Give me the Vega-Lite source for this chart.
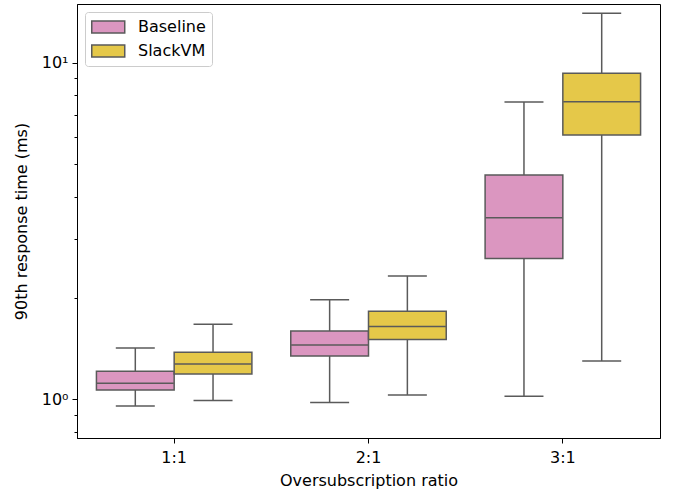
{
  "$schema": "https://vega.github.io/schema/vega-lite/v6.json",
  "width": 583,
  "height": 434,
  "autosize": "none",
  "padding": {"left": 77, "top": 4, "right": 15, "bottom": 56},
  "config": {
    "font": "DejaVu Sans",
    "view": {"stroke": "#000000", "strokeWidth": 1},
    "axis": {"labelColor": "#000000", "titleColor": "#000000", "titleFontWeight": "normal", "labelFontSize": 16, "titleFontSize": 16, "tickColor": "#000000", "domainColor": "#000000", "grid": false}
  },
  "data": {"values": [
    {"ratio": "1:1", "system": "Baseline", "lower": 0.955, "q1": 1.066, "median": 1.116, "q3": 1.211, "upper": 1.42},
    {"ratio": "1:1", "system": "SlackVM", "lower": 0.991, "q1": 1.189, "median": 1.273, "q3": 1.38, "upper": 1.671},
    {"ratio": "2:1", "system": "Baseline", "lower": 0.978, "q1": 1.345, "median": 1.45, "q3": 1.596, "upper": 1.974},
    {"ratio": "2:1", "system": "SlackVM", "lower": 1.03, "q1": 1.505, "median": 1.645, "q3": 1.826, "upper": 2.326},
    {"ratio": "3:1", "system": "Baseline", "lower": 1.021, "q1": 2.62, "median": 3.46, "q3": 4.637, "upper": 7.641},
    {"ratio": "3:1", "system": "SlackVM", "lower": 1.3, "q1": 6.096, "median": 7.656, "q3": 9.3, "upper": 14.03}
  ]},
  "encoding": {
    "x": {"field": "ratio", "type": "nominal", "scale": {"paddingInner": 0.2, "paddingOuter": 0.1},
      "axis": {"title": "Oversubscription ratio", "labelAngle": 0, "tickSize": 5, "labelPadding": 6, "titlePadding": 7}},
    "xOffset": {"field": "system", "type": "nominal", "scale": {"paddingInner": 0, "paddingOuter": 0}}
  },
  "resolve": {"axis": {"y": "independent"}},
  "layer": [
    {
      "mark": {"type": "rule", "color": "#5a5a5a", "strokeWidth": 1.5},
      "encoding": {
        "y": {"field": "lower", "type": "quantitative", "scale": {"type": "log", "domain": [0.767, 14.95], "nice": false},
          "axis": {"orient": "left", "values": [1, 10], "labelExpr": "datum.value == 1 ? '10⁰' : '10¹'", "tickSize": 5, "title": "90th response time (ms)", "titlePadding": 12, "labelPadding": 4}},
        "y2": {"field": "upper"}
      }
    },
    {
      "mark": {"type": "tick", "color": "#5a5a5a", "thickness": 1.5, "size": 39, "opacity": 1},
      "encoding": {
        "y": {"field": "lower", "type": "quantitative",
          "axis": {"orient": "left", "values": [0.8, 0.9, 2, 3, 4, 5, 6, 7, 8, 9], "labels": false, "tickSize": 3, "domain": false, "title": null}}
      }
    },
    {
      "mark": {"type": "tick", "color": "#5a5a5a", "thickness": 1.5, "size": 39, "opacity": 1},
      "encoding": {"y": {"field": "upper", "type": "quantitative", "axis": null}}
    },
    {
      "mark": {"type": "bar", "stroke": "#5a5a5a", "strokeWidth": 1.5, "opacity": 1},
      "encoding": {
        "y": {"field": "q1", "type": "quantitative", "axis": null},
        "y2": {"field": "q3"},
        "color": {"field": "system", "type": "nominal", "scale": {"domain": ["Baseline", "SlackVM"], "range": ["#db96c0", "#e5c849"]},
          "legend": {"title": null, "orient": "none", "legendX": 8, "legendY": 8, "padding": 6, "symbolType": "M-1,-0.727H3V0.727H-1Z", "symbolSize": 272, "symbolStrokeColor": "#5a5a5a", "symbolStrokeWidth": 1.5, "symbolOpacity": 1, "labelFontSize": 16, "labelColor": "#000000", "labelOffset": 29, "rowPadding": 6, "strokeColor": "#cccccc", "fillColor": "rgba(255,255,255,0.8)", "cornerRadius": 3}}
      }
    },
    {
      "mark": {"type": "tick", "color": "#5a5a5a", "thickness": 1.5, "size": 77, "opacity": 1},
      "encoding": {"y": {"field": "median", "type": "quantitative", "axis": null}}
    }
  ]
}
